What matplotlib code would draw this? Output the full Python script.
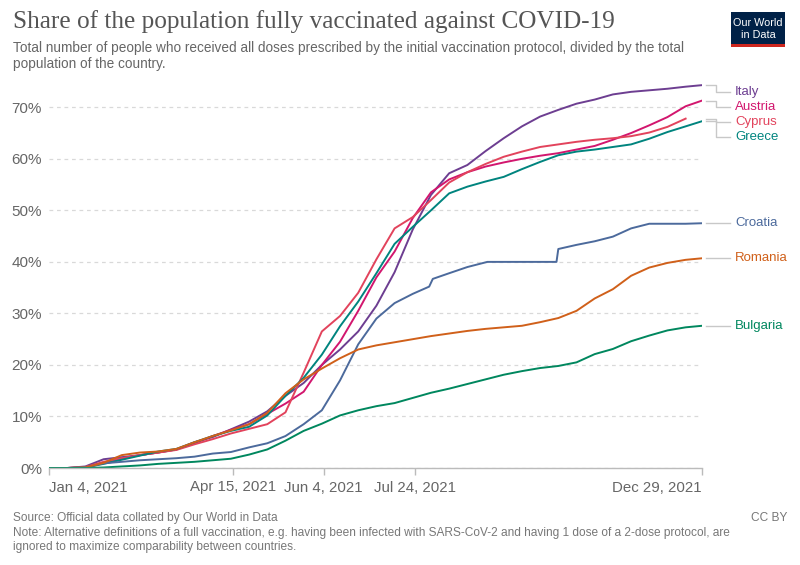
import matplotlib
matplotlib.use("Agg")
import matplotlib.pyplot as plt
import numpy as np
from matplotlib.patches import Rectangle

# ---------------- data (share of population fully vaccinated, %) ----------------
start_date = np.datetime64("2021-01-04")
days = [0, 10, 20, 30, 40, 50, 60, 70, 80, 90, 100, 110, 120, 130, 140, 150, 160,
        170, 180, 190, 200, 210, 220, 230, 240, 250, 260, 270, 280, 290, 300, 310,
        320, 330, 340, 350, 359]

italy = [0, 0, 0.3, 1.7, 2.1, 2.5, 3.0, 3.6, 5.0, 6.0, 7.5, 9.0, 11.0, 14.0, 16.5,
         20.0, 23.0, 26.5, 31.5, 38.0, 46.3, 53.0, 57.2, 58.8, 61.5, 64.0, 66.3,
         68.2, 69.5, 70.7, 71.5, 72.5, 73.0, 73.3, 73.6, 74.0, 74.3]
austria = [0, 0, 0.1, 1.0, 1.8, 2.5, 3.0, 3.6, 4.8, 6.2, 7.4, 8.5, 10.5, 12.5, 14.8,
           20.0, 24.5, 30.5, 37.0, 42.0, 48.5, 53.5, 56.0, 57.4, 58.5, 59.3, 60.0,
           60.6, 61.1, 61.8, 62.5, 63.7, 65.0, 66.5, 68.1, 70.2, 71.3]
cyprus = [0, 0, 0.2, 1.2, 1.9, 2.5, 3.0, 3.5, 4.6, 5.6, 6.7, 7.6, 8.5, 10.8, 18.5,
          26.5, 29.5, 34.0, 40.5, 46.5, 48.7, 52.0, 55.4, 57.4, 59.0, 60.4, 61.4,
          62.3, 62.8, 63.3, 63.7, 64.0, 64.4, 65.1, 66.2, 67.8, np.nan]
greece = [0, 0, 0.1, 0.8, 1.6, 2.4, 3.2, 3.7, 5.0, 6.2, 7.2, 8.0, 10.2, 14.0, 17.5,
          22.0, 27.5, 32.3, 37.8, 43.5, 46.8, 50.0, 53.3, 54.6, 55.6, 56.5, 58.0,
          59.4, 60.7, 61.4, 61.8, 62.3, 62.8, 63.9, 65.2, 66.3, 67.3]
croatia_days = [0, 10, 20, 30, 40, 50, 60, 70, 80, 90, 100, 110, 120, 130, 140, 150,
                160, 170, 180, 190, 200, 209, 211, 220, 230, 241, 279, 280, 290, 300,
                310, 320, 330, 340, 350, 359]
croatia = [0, 0, 0.1, 0.9, 1.2, 1.5, 1.7, 1.9, 2.2, 2.8, 3.1, 4.0, 4.8, 6.2, 8.5, 11.2,
           17.0, 24.0, 29.0, 32.0, 33.8, 35.2, 36.7, 37.8, 39.0, 40.0, 40.0, 42.5,
           43.3, 44.0, 44.9, 46.5, 47.4, 47.4, 47.4, 47.5]
romania = [0, 0, 0.1, 1.0, 2.5, 3.0, 3.2, 3.7, 5.0, 6.2, 7.3, 8.5, 10.7, 14.5, 17.2,
           19.3, 21.3, 23.0, 23.8, 24.4, 25.0, 25.6, 26.1, 26.6, 27.0, 27.3, 27.6,
           28.3, 29.1, 30.5, 32.9, 34.7, 37.3, 38.9, 39.8, 40.4, 40.7]
bulgaria = [0, 0, 0, 0.1, 0.3, 0.5, 0.8, 1.0, 1.2, 1.5, 1.8, 2.6, 3.6, 5.3, 7.2, 8.6,
            10.2, 11.2, 12.0, 12.6, 13.6, 14.6, 15.4, 16.3, 17.2, 18.1, 18.8, 19.4,
            19.8, 20.5, 22.1, 23.1, 24.6, 25.7, 26.7, 27.3, 27.6]

countries = ["Italy", "Austria", "Cyprus", "Greece", "Croatia", "Romania", "Bulgaria"]
series = {"Italy": (days, italy), "Austria": (days, austria), "Cyprus": (days, cyprus),
          "Greece": (days, greece), "Croatia": (croatia_days, croatia),
          "Romania": (days, romania), "Bulgaria": (days, bulgaria)}

tick_days = [0, 101, 151, 201, 359]
tick_labels = ["Jan 4, 2021", "Apr 15, 2021", "Jun 4, 2021", "Jul 24, 2021", "Dec 29, 2021"]
y_ticks = [0, 10, 20, 30, 40, 50, 60, 70]

# ---------------- styling ----------------
colors = {"Italy": "#6D3E91", "Austria": "#D2166E", "Cyprus": "#E2435C",
          "Greece": "#00847E", "Croatia": "#4C6A9C", "Romania": "#D0601A",
          "Bulgaria": "#00875E"}
label_y = {"Italy": 72.9, "Austria": 70.0, "Cyprus": 67.2, "Greece": 64.3,
           "Croatia": 47.5, "Romania": 40.8, "Bulgaria": 27.6}

SANS = ["Liberation Sans", "DejaVu Sans"]
plt.rcParams["font.family"] = SANS

W, H = 800, 565
fig = plt.figure(figsize=(W / 100, H / 100), dpi=100)
fig.patch.set_facecolor("white")


def px(x, y):
    return x / W, 1 - y / H


def to_dates(d):
    return start_date + np.array(d).astype("timedelta64[D]")


x0, x1, y0 = 49, 702, 468
ppy = (468 - 107.3) / 70.0
ymax = 75
ytop = y0 - ymax * ppy
ax = fig.add_axes([x0 / W, (H - y0) / H, (x1 - x0) / W, (y0 - ytop) / H])

for c in countries:
    d, v = series[c]
    ax.plot(to_dates(d), v, color=colors[c], lw=1.4, solid_joinstyle="round")

ax.set_xlim(to_dates([0])[0], to_dates([359])[0])
ax.set_ylim(0, ymax)

ax.set_yticks(y_ticks)
ax.set_yticklabels([f"{v}%" for v in y_ticks])
ax.yaxis.grid(True, linestyle=(0, (3, 3)), color="#d9d9d9", lw=0.9)
ax.set_axisbelow(True)
ax.tick_params(axis="y", length=0, pad=5, labelsize=11, labelcolor="#666666")

ax.set_xticks(to_dates(tick_days))
ax.set_xticklabels(tick_labels)
ax.tick_params(axis="x", length=5, width=1, color="#bbbbbb", pad=4,
               labelsize=10.8, labelcolor="#666666")
xl = ax.get_xticklabels()
xl[0].set_ha("left")
xl[-1].set_ha("right")

for s in ["top", "right", "left"]:
    ax.spines[s].set_visible(False)
ax.spines["bottom"].set_color("#bbbbbb")
ax.spines["bottom"].set_linewidth(1)

# connectors and labels
ppd = (x1 - x0) / 359.0


def dday(xp):
    return (xp - x0) / ppd


def hdate(z):
    return start_date + np.timedelta64(int(round(z * 24)), "h")


for c in countries:
    d, v = series[c]
    vals = np.array(v, dtype=float)
    yend = vals[~np.isnan(vals)][-1]
    yl = label_y[c]
    xa = [hdate(dday(706)), hdate(dday(716)), hdate(dday(716)), hdate(dday(730))]
    ax.plot(xa, [yend, yend, yl, yl], color="#c8c8c8", lw=1, clip_on=False)
    ax.text(hdate(dday(735)), yl, c, color=colors[c], fontsize=9.5,
            va="center", ha="left", clip_on=False)

# titles
fig.text(*px(13, 22), "Share of the population fully vaccinated against COVID-19",
         family=["Liberation Serif", "DejaVu Serif"], fontsize=18.2, color="#555555",
         va="center", ha="left")
fig.text(*px(13, 48), "Total number of people who received all doses prescribed by the "
         "initial vaccination protocol, divided by the total",
         fontsize=9.8, color="#666666", va="center", ha="left")
fig.text(*px(13, 64), "population of the country.",
         fontsize=9.8, color="#666666", va="center", ha="left")

# footer
fig.text(*px(13, 518), "Source: Official data collated by Our World in Data",
         fontsize=8.6, color="#777777", va="center", ha="left")
fig.text(*px(787, 518), "CC BY", fontsize=8.6, color="#777777", va="center", ha="right")
fig.text(*px(13, 533), "Note: Alternative definitions of a full vaccination, e.g. having "
         "been infected with SARS-CoV-2 and having 1 dose of a 2-dose protocol, are",
         fontsize=8.6, color="#777777", va="center", ha="left")
fig.text(*px(13, 547), "ignored to maximize comparability between countries.",
         fontsize=8.6, color="#777777", va="center", ha="left")

# logo
lx, ly, lw_, lh = 731, 12, 54, 35
fig.patches.append(Rectangle(px(lx, ly + lh), lw_ / W, lh / H, transform=fig.transFigure,
                             facecolor="#002147", edgecolor="none"))
fig.patches.append(Rectangle(px(lx, ly + lh), lw_ / W, 3.5 / H, transform=fig.transFigure,
                             facecolor="#CE261E", edgecolor="none"))
fig.text(*px(lx + lw_ / 2, 23), "Our World", fontsize=7.8, color="white",
         va="center", ha="center")
fig.text(*px(lx + lw_ / 2, 35), "in Data", fontsize=7.8, color="white",
         va="center", ha="center")

fig.savefig("out.png", dpi=100, facecolor="white")
